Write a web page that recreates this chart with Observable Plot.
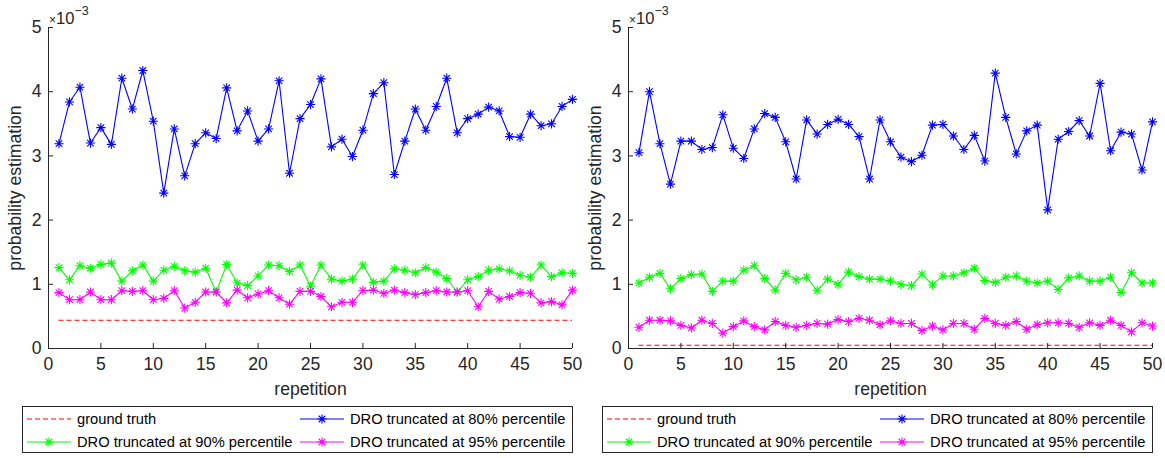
<!DOCTYPE html>
<html>
<head>
<meta charset="utf-8">
<script src="https://cdn.jsdelivr.net/npm/d3@7"></script>
<script src="https://cdn.jsdelivr.net/npm/@observablehq/plot@0.6"></script>
<style>
  html, body { margin: 0; padding: 0; background: #fff; }
  #root { position: relative; width: 1165px; height: 458px; overflow: hidden; font-family: "Liberation Sans", Arial, Helvetica, sans-serif; color: #262626; }
  .panel { position: absolute; top: 0; width: 580px; height: 458px; }
  .panel svg.plot { position: absolute; left: 0; top: 0; overflow: visible; }
  .expo { position: absolute; left: 0; top: 0; }
  .legend { position: absolute; left: 22px; top: 406px; }
</style>
</head>
<body>
<div id="root"></div>
<script>
// values are in units of 1e-3
const repetition = d3.range(1, 51);
const left80 = [3.19,3.84,4.07,3.20,3.44,3.18,4.21,3.73,4.33,3.54,
                2.42,3.42,2.69,3.19,3.36,3.27,4.06,3.39,3.70,3.23,
                3.42,4.17,2.73,3.58,3.80,4.20,3.14,3.26,2.99,3.40,
                3.97,4.14,2.71,3.23,3.73,3.40,3.77,4.21,3.36,3.58,
                3.65,3.76,3.70,3.30,3.29,3.65,3.47,3.50,3.77,3.88];
const left90 = [1.26,1.07,1.29,1.25,1.31,1.33,1.05,1.21,1.30,1.05,
                1.22,1.28,1.21,1.19,1.25,0.88,1.31,1.02,0.98,1.13,
                1.30,1.29,1.20,1.30,0.97,1.30,1.08,1.05,1.08,1.30,
                1.03,1.05,1.24,1.22,1.18,1.26,1.19,1.09,0.88,1.07,
                1.12,1.22,1.24,1.21,1.14,1.11,1.30,1.12,1.18,1.17];
const left95 = [0.87,0.76,0.76,0.88,0.76,0.76,0.90,0.89,0.90,0.76,
                0.78,0.90,0.63,0.72,0.88,0.88,0.71,0.91,0.79,0.85,
                0.90,0.79,0.69,0.89,0.89,0.81,0.65,0.72,0.72,0.90,
                0.91,0.86,0.91,0.87,0.84,0.87,0.90,0.88,0.88,0.90,
                0.65,0.89,0.77,0.81,0.87,0.86,0.71,0.73,0.68,0.91];
const leftTruth = 0.44;

const right80 = [3.05,4.00,3.19,2.56,3.23,3.23,3.10,3.13,3.64,3.12,
                 2.96,3.42,3.66,3.60,3.22,2.64,3.56,3.34,3.49,3.57,
                 3.49,3.30,2.64,3.56,3.22,2.98,2.91,3.01,3.48,3.49,
                 3.31,3.10,3.32,2.92,4.29,3.60,3.03,3.39,3.48,2.16,
                 3.26,3.38,3.55,3.31,4.13,3.08,3.37,3.34,2.78,3.53];
const right90 = [1.02,1.11,1.17,0.93,1.09,1.15,1.16,0.89,1.05,1.05,
                 1.22,1.29,1.09,0.91,1.17,1.07,1.11,0.90,1.08,1.00,
                 1.19,1.12,1.08,1.08,1.05,1.00,0.98,1.16,0.99,1.13,
                 1.13,1.18,1.25,1.06,1.03,1.11,1.13,1.05,1.02,1.05,
                 0.92,1.10,1.13,1.05,1.05,1.11,0.87,1.18,1.02,1.02];
const right95 = [0.33,0.44,0.44,0.43,0.36,0.32,0.44,0.39,0.24,0.34,
                 0.43,0.34,0.29,0.42,0.36,0.33,0.36,0.39,0.38,0.45,
                 0.42,0.47,0.44,0.37,0.43,0.39,0.39,0.28,0.35,0.29,
                 0.39,0.39,0.30,0.47,0.39,0.36,0.42,0.30,0.37,0.40,
                 0.40,0.39,0.33,0.40,0.36,0.44,0.36,0.26,0.40,0.35];
const rightTruth = 0.05;

const xTicks = [0,5,10,15,20,25,30,35,40,45,50];
const yTicks = [0,1,2,3,4,5];
const seriesNames = ["ground truth", "DRO truncated at 80% percentile", "DRO truncated at 90% percentile", "DRO truncated at 95% percentile"];
const seriesColors = ["#ff0000", "#0000ff", "#00ff00", "#ff00ff"];

const asterisk = {
  draw(ctx, size) {
    const r = Math.sqrt(size / Math.PI);
    const d = r * Math.SQRT1_2;
    ctx.moveTo(-r, 0); ctx.lineTo(r, 0);
    ctx.moveTo(0, -r); ctx.lineTo(0, r);
    ctx.moveTo(-d, -d); ctx.lineTo(d, d);
    ctx.moveTo(-d, d); ctx.lineTo(d, -d);
  }
};

const axisColor = "#262626";
const fmt = d3.format("d");

function makePanel(truth, s80, s90, s95) {
  const rows = (vals) => repetition.map((r, i) => ({r, v: vals[i]}));
  const series = [
    {data: rows(s80), color: seriesColors[1]},
    {data: rows(s90), color: seriesColors[2]},
    {data: rows(s95), color: seriesColors[3]}
  ];
  const marks = [
    Plot.ruleY([truth], {x1: 1, x2: 50, stroke: seriesColors[0], strokeWidth: 1.1, strokeDasharray: "5,3"}),
  ];
  for (const s of series) {
    marks.push(Plot.line(s.data, {x: "r", y: "v", stroke: s.color, strokeWidth: 1.1}));
    marks.push(Plot.dot(s.data, {x: "r", y: "v", stroke: s.color, fill: "none", symbol: asterisk, r: 4.6, strokeWidth: 1.1}));
  }
  marks.push(
    Plot.ruleX([0], {stroke: axisColor, strokeWidth: 1}),
    Plot.ruleY([0], {stroke: axisColor, strokeWidth: 1}),
    Plot.axisX(xTicks, {tickSize: -5, tickPadding: 14, fontSize: 16, stroke: axisColor, fill: axisColor, tickFormat: fmt,
      label: "repetition", labelAnchor: "center", labelOffset: 46, labelArrow: "none"}),
    Plot.axisY(yTicks, {tickSize: -5, tickPadding: 12, fontSize: 16, stroke: axisColor, fill: axisColor, tickFormat: fmt,
      label: "probability estimation", labelAnchor: "center", labelOffset: 40, labelArrow: "none"})
  );
  const svg = Plot.plot({
    width: 580,
    height: 400,
    marginLeft: 48,
    marginRight: 8,
    marginTop: 27,
    marginBottom: 52,
    style: {fontFamily: '"Liberation Sans", Arial, Helvetica, sans-serif', fontSize: "16px", color: axisColor, background: "transparent", overflow: "visible"},
    x: {domain: [0, 50]},
    y: {domain: [0, 5]},
    marks
  });
  svg.classList.add("plot");
  d3.select(svg).selectAll("[aria-label$='label'] text, [aria-label$='label']").style("font-size", "17.6px");
  return svg;
}

function makeExponent() {
  const svg = d3.create("svg").attr("width", 120).attr("height", 30).attr("class", "expo")
    .style("font-family", '"Liberation Sans", Arial, Helvetica, sans-serif');
  const t = svg.append("text").attr("x", 49).attr("y", 24).attr("fill", axisColor);
  t.append("tspan").attr("font-size", "12px").text("×");
  t.append("tspan").attr("font-size", "16.5px").text("10");
  t.append("tspan").attr("font-size", "12.5px").attr("dy", -9).text("−3");
  return svg.node();
}

function makeLegend() {
  const W = 551, H = 47;
  const svg = d3.create("svg").attr("width", W).attr("height", H)
    .style("font-family", '"Liberation Sans", Arial, Helvetica, sans-serif');
  svg.append("rect").attr("x", 0.5).attr("y", 0.5).attr("width", W - 1).attr("height", H - 1)
    .attr("fill", "#fff").attr("stroke", axisColor).attr("stroke-width", 1);
  const pos = [[0, 0], [1, 0], [0, 1], [1, 1]];
  seriesNames.forEach((name, i) => {
    const [c, r] = pos[i];
    const x0 = c === 0 ? 5 : 278;
    const x1 = x0 + 44;
    const y = 13 + r * 23;
    const g = svg.append("g");
    const line = g.append("line").attr("x1", x0).attr("x2", x1).attr("y1", y).attr("y2", y)
      .attr("stroke", seriesColors[i]).attr("stroke-width", 1.1);
    if (i === 0) {
      line.attr("stroke-dasharray", "5,3");
    } else {
      const cx = (x0 + x1) / 2;
      const path = d3.path();
      asterisk.draw(path, Math.PI * 4.6 * 4.6);
      g.append("path").attr("d", path.toString()).attr("transform", `translate(${cx},${y})`)
        .attr("stroke", seriesColors[i]).attr("fill", "none").attr("stroke-width", 1.1);
    }
    g.append("text").attr("x", x1 + 6).attr("y", y).attr("dy", "0.35em")
      .attr("font-size", "14.7px").attr("fill", "#000").text(name);
  });
  return svg.node();
}

const root = document.getElementById("root");
const panels = [
  {left: 0, truth: leftTruth, s80: left80, s90: left90, s95: left95},
  {left: 580, truth: rightTruth, s80: right80, s90: right90, s95: right95}
];
for (const p of panels) {
  const div = document.createElement("div");
  div.className = "panel";
  div.style.left = p.left + "px";
  div.appendChild(makePanel(p.truth, p.s80, p.s90, p.s95));
  div.appendChild(makeExponent());
  const leg = document.createElement("div");
  leg.className = "legend";
  leg.appendChild(makeLegend());
  div.appendChild(leg);
  root.appendChild(div);
}
</script>
</body>
</html>
